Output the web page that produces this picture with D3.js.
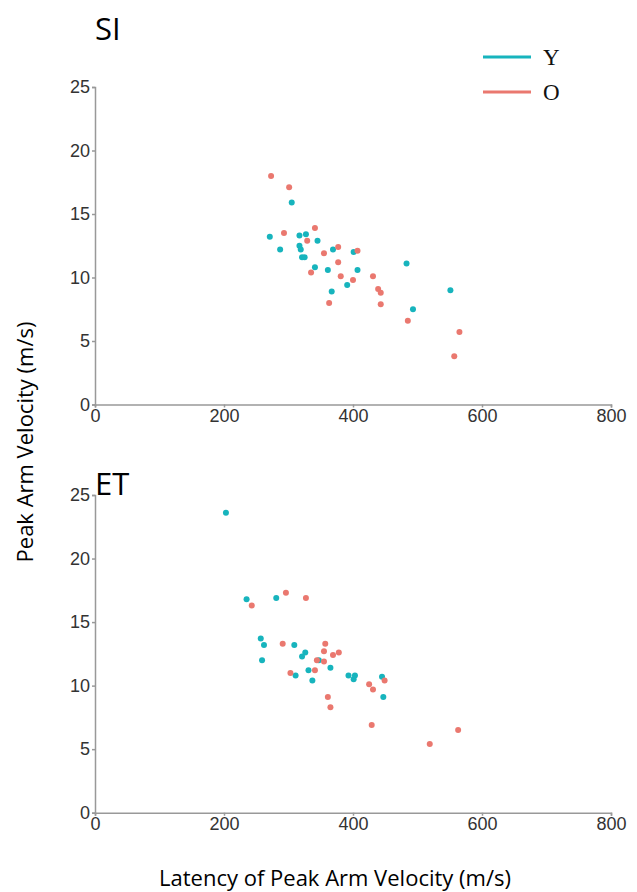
<!DOCTYPE html>
<html>
<head>
<meta charset="utf-8">
<title>Peak Arm Velocity vs Latency</title>
<script src="https://d3js.org/d3.v7.min.js"></script>
<style>
  body { margin: 0; background: #fff; }
  .tick text { font-family: "Liberation Sans", Arial, sans-serif; font-size: 18px; fill: #333; }
  .domain, .tick line { stroke: #999; stroke-width: 1.5; }
</style>
</head>
<body>
<div id="chart"></div>
<script>

// ---- data ----
var xTicks = [0, 200, 400, 600, 800];
var yTicks = [0, 5, 10, 15, 20, 25];
var groups = ["Y", "O"];
var panelNames = ["SI", "ET"];

// SI panel
var siYLatency = [305, 271, 317, 327, 345, 287, 317, 319, 321, 325, 369, 401, 341, 361, 407, 391, 367, 483, 551, 493];
var siYVelocity = [15.9, 13.2, 13.3, 13.4, 12.9, 12.2, 12.5, 12.2, 11.6, 11.6, 12.2, 12.0, 10.8, 10.6, 10.6, 9.4, 8.9, 11.1, 9.0, 7.5];
var siOLatency = [273, 301, 293, 341, 329, 377, 355, 407, 335, 377, 381, 400, 431, 439, 443, 363, 443, 485, 565, 557];
var siOVelocity = [18.0, 17.1, 13.5, 13.9, 12.9, 12.4, 11.9, 12.1, 10.4, 11.2, 10.1, 9.8, 10.1, 9.1, 8.8, 8.0, 7.9, 6.6, 5.7, 3.8];

// ET panel
var etYLatency = [203, 235, 281, 257, 262, 259, 309, 321, 326, 311, 331, 337, 347, 365, 393, 401, 403, 445, 447];
var etYVelocity = [23.6, 16.8, 16.9, 13.7, 13.2, 12.0, 13.2, 12.3, 12.6, 10.8, 11.2, 10.4, 12.0, 11.4, 10.8, 10.5, 10.8, 10.7, 9.1];
var etOLatency = [243, 296, 327, 291, 357, 355, 369, 378, 355, 341, 303, 361, 365, 425, 431, 449, 429, 519, 563, 344];
var etOVelocity = [16.3, 17.3, 16.9, 13.3, 13.3, 12.7, 12.4, 12.6, 11.9, 11.2, 11.0, 9.1, 8.3, 10.1, 9.7, 10.4, 6.9, 5.4, 6.5, 12.0];

var width = 637, height = 892;

var svg = d3.select("#chart")
  .append("svg")
    .attr("width", width)
    .attr("height", height);

var color = d3.scaleOrdinal()
  .domain(groups)
  .range(["#17b4bd", "#ea786f"]);

// x scale shared by both panels
var x = d3.scaleLinear()
  .domain([0, 800])
  .range([95, 611]);

function zip(lat, vel, g) {
  return lat.map(function(d, i) { return {lat: d, vel: vel[i], group: g}; });
}

function drawPanel(name, bottom, top, titleY, yData, oData) {
  var y = d3.scaleLinear()
    .domain([0, 25])
    .range([bottom, top]);

  // x axis
  svg.append("g")
    .attr("transform", "translate(0," + bottom + ")")
    .call(d3.axisBottom(x).tickValues(xTicks).tickSize(3).tickPadding(2));

  // y axis
  svg.append("g")
    .attr("transform", "translate(" + x(0) + ",0)")
    .call(d3.axisLeft(y).tickValues(yTicks).tickSize(3).tickPadding(2));

  // points
  var pts = zip(yData[0], yData[1], "Y").concat(zip(oData[0], oData[1], "O"));
  svg.append("g")
    .selectAll("circle")
    .data(pts)
    .enter()
    .append("circle")
      .attr("cx", function(d) { return x(d.lat); })
      .attr("cy", function(d) { return y(d.vel); })
      .attr("r", 3)
      .attr("fill", function(d) { return color(d.group); });

  // panel title
  svg.append("text")
    .attr("x", 95)
    .attr("y", titleY)
    .text(name)
    .style("font-family", "'Open Sans', sans-serif")
    .style("font-size", "31px")
    .style("font-weight", 500)
    .style("fill", "#000");
}

drawPanel(panelNames[0], 404.5, 87, 40, [siYLatency, siYVelocity], [siOLatency, siOVelocity]);
drawPanel(panelNames[1], 812.7, 495, 495, [etYLatency, etYVelocity], [etOLatency, etOVelocity]);

// axis titles
svg.append("text")
  .attr("x", 335)
  .attr("y", 886)
  .attr("text-anchor", "middle")
  .text("Latency of Peak Arm Velocity (m/s)")
  .style("font-family", "'Open Sans', sans-serif")
  .style("font-size", "22px")
  .style("font-weight", 500)
  .style("fill", "#000");

svg.append("text")
  .attr("transform", "translate(33,442) rotate(-90)")
  .attr("text-anchor", "middle")
  .text("Peak Arm Velocity (m/s)")
  .style("font-family", "'Open Sans', sans-serif")
  .style("font-size", "22px")
  .style("font-weight", 500)
  .style("fill", "#000");

// Handmade legend
groups.forEach(function(g, i) {
  var ly = 57 + i * 35;
  svg.append("line")
    .attr("x1", 483).attr("x2", 531)
    .attr("y1", ly).attr("y2", ly)
    .style("stroke", color(g))
    .style("stroke-width", 3);
  svg.append("text")
    .attr("x", 543)
    .attr("y", ly)
    .attr("dy", "0.35em")
    .text(g)
    .style("font-family", "'Liberation Serif', serif")
    .style("font-size", "23px")
    .style("fill", "#111");
});

</script>
</body>
</html>
